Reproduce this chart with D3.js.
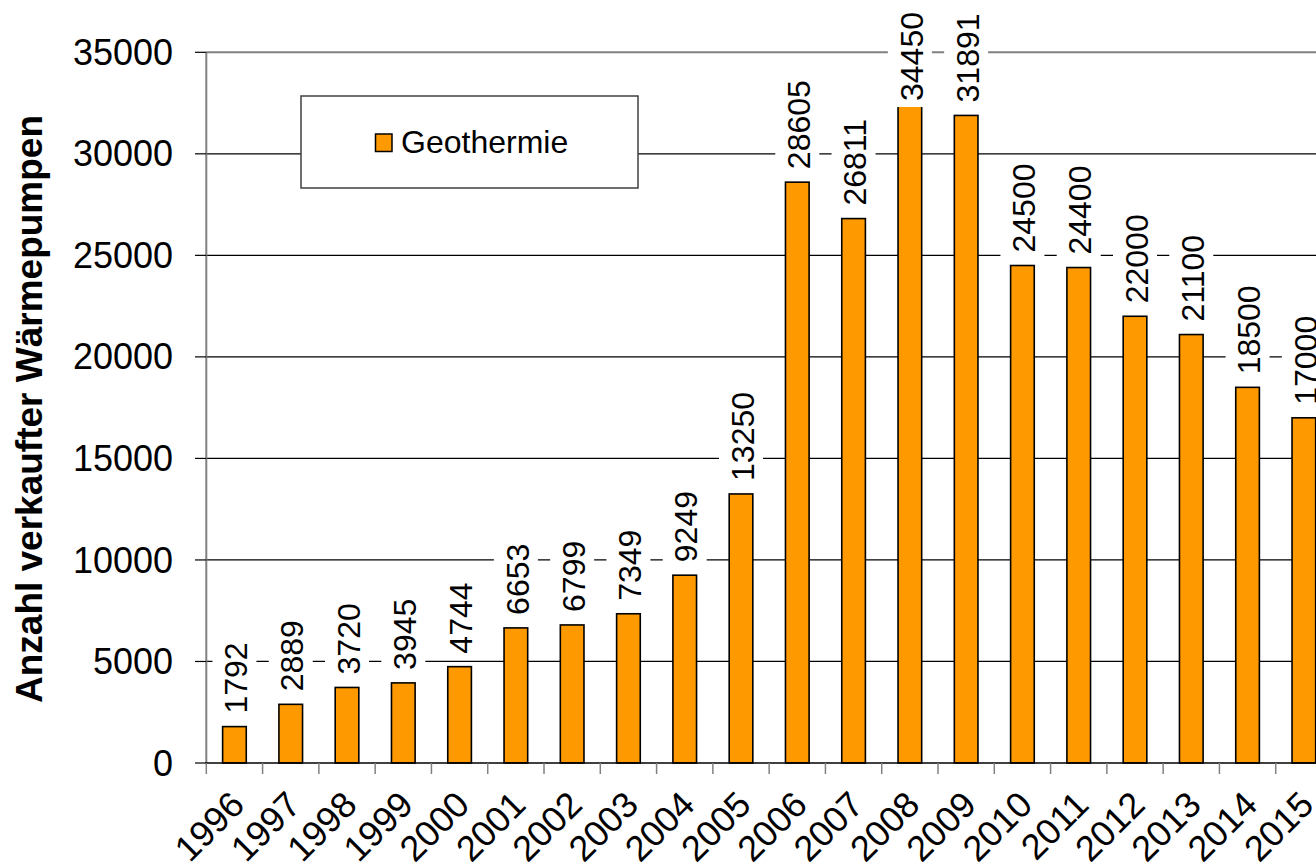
<!DOCTYPE html>
<html>
<head>
<meta charset="utf-8">
<script src="https://cdn.jsdelivr.net/npm/d3@7/dist/d3.min.js"></script>
<style>
  html, body { margin: 0; padding: 0; background: #fff; }
  svg { display: block; font-family: "Liberation Sans", Arial, sans-serif; }
</style>
</head>
<body>
<svg id="chart" width="1316" height="867"></svg>
<script>
const years = ["1996","1997","1998","1999","2000","2001","2002","2003","2004","2005",
               "2006","2007","2008","2009","2010","2011","2012","2013","2014","2015"];
const geothermie = [1792, 2889, 3720, 3945, 4744, 6653, 6799, 7349, 9249, 13250,
                    28605, 26811, 34450, 31891, 24500, 24400, 22000, 21100, 18500, 17000];
const yTicks = [0, 5000, 10000, 15000, 20000, 25000, 30000, 35000];
const seriesName = "Geothermie";
const yTitle = "Anzahl verkaufter Wärmepumpen";

(function () {
const svg = d3.select("#chart");
const pLeft = 206.3, pRight = 1332, pTop = 52.3, pBottom = 763;

const x = d3.scaleBand().domain(years).range([pLeft, pRight]).paddingInner(0.58).paddingOuter(0.29);
const xStep = d3.scaleBand().domain(years).range([pLeft, pRight]).padding(0);
const y = d3.scaleLinear().domain([0, 35000]).range([pBottom, pTop]);

// gridlines
svg.append("g").selectAll("line")
  .data(yTicks.filter(d => d > 0 && d < 35000))
  .join("line")
  .attr("x1", pLeft).attr("x2", 1316)
  .attr("y1", d => y(d)).attr("y2", d => y(d))
  .attr("stroke", "#000").attr("stroke-width", 1.2);

// top border
svg.append("line")
  .attr("x1", pLeft).attr("x2", 1316)
  .attr("y1", y(35000)).attr("y2", y(35000))
  .attr("stroke", "#808080").attr("stroke-width", 2);

// bars
svg.append("g").selectAll("rect")
  .data(geothermie)
  .join("rect")
  .attr("x", (d, i) => x(years[i]))
  .attr("width", x.bandwidth())
  .attr("y", d => y(d))
  .attr("height", d => y(0) - y(d))
  .attr("fill", "#FF9900")
  .attr("stroke", "#000")
  .attr("stroke-width", 1.6);

// data labels with white boxes
const lblG = svg.append("g");
geothermie.forEach((v, i) => {
  const cx = x(years[i]) + x.bandwidth() / 2;
  const g = lblG.append("g");
  const box = g.append("rect").attr("fill", "#fff");
  const t = g.append("text")
    .attr("font-size", 32)
    .attr("fill", "#000")
    .attr("text-anchor", "start")
    .attr("dy", "0.35em")
    .text(v);
  const L = t.node().getComputedTextLength();
  let anchor = y(v) - 13;
  anchor = Math.max(anchor, 12 + L);
  t.attr("transform", `translate(${cx + 1.5},${anchor}) rotate(-90)`);
  box.attr("x", cx - 22).attr("width", 44)
     .attr("y", anchor - L - 6).attr("height", L + 12);
});

// y axis line
svg.append("line")
  .attr("x1", pLeft).attr("x2", pLeft)
  .attr("y1", y(35000)).attr("y2", pBottom)
  .attr("stroke", "#808080").attr("stroke-width", 2);

// y ticks
svg.append("g").selectAll("line")
  .data(yTicks)
  .join("line")
  .attr("x1", 195).attr("x2", pLeft)
  .attr("y1", d => y(d)).attr("y2", d => y(d))
  .attr("stroke", "#000").attr("stroke-width", 1.2);

svg.append("g").selectAll("text")
  .data(yTicks)
  .join("text")
  .attr("x", 173)
  .attr("y", d => y(d))
  .attr("dy", "0.35em")
  .attr("text-anchor", "end")
  .attr("font-size", 36)
  .attr("fill", "#000")
  .text(d => d);

// x axis line
svg.append("line")
  .attr("x1", pLeft - 1).attr("x2", 1316)
  .attr("y1", pBottom).attr("y2", pBottom)
  .attr("stroke", "#000").attr("stroke-width", 1.5);

// x ticks at band boundaries
svg.append("g").selectAll("line")
  .data(years)
  .join("line")
  .attr("x1", d => xStep(d)).attr("x2", d => xStep(d))
  .attr("y1", pBottom).attr("y2", pBottom + 11)
  .attr("stroke", "#808080").attr("stroke-width", 1.5);

// x labels
svg.append("g").selectAll("text")
  .data(years)
  .join("text")
  .attr("transform", d => `translate(${x(d) + x.bandwidth() / 2 + 3},798) rotate(-45)`)
  .attr("dy", "0.35em")
  .attr("text-anchor", "end")
  .attr("font-size", 36)
  .attr("fill", "#000")
  .text(d => d);

// y title
svg.append("text")
  .attr("transform", `translate(42,409) rotate(-90)`)
  .attr("text-anchor", "middle")
  .attr("font-size", 37)
  .attr("font-weight", "bold")
  .attr("fill", "#000")
  .text(yTitle);

// legend
const lg = svg.append("g");
lg.append("rect")
  .attr("x", 301).attr("y", 96).attr("width", 337).attr("height", 92)
  .attr("fill", "#fff").attr("stroke", "#404040").attr("stroke-width", 1.5);
lg.append("rect")
  .attr("x", 375.5).attr("y", 134).attr("width", 16.5).attr("height", 17.5)
  .attr("fill", "#FF9900").attr("stroke", "#000").attr("stroke-width", 1.5);
lg.append("text")
  .attr("x", 401).attr("y", 153)
  .attr("font-size", 32)
  .attr("fill", "#000")
  .text(seriesName);
})();
</script>
</body>
</html>
